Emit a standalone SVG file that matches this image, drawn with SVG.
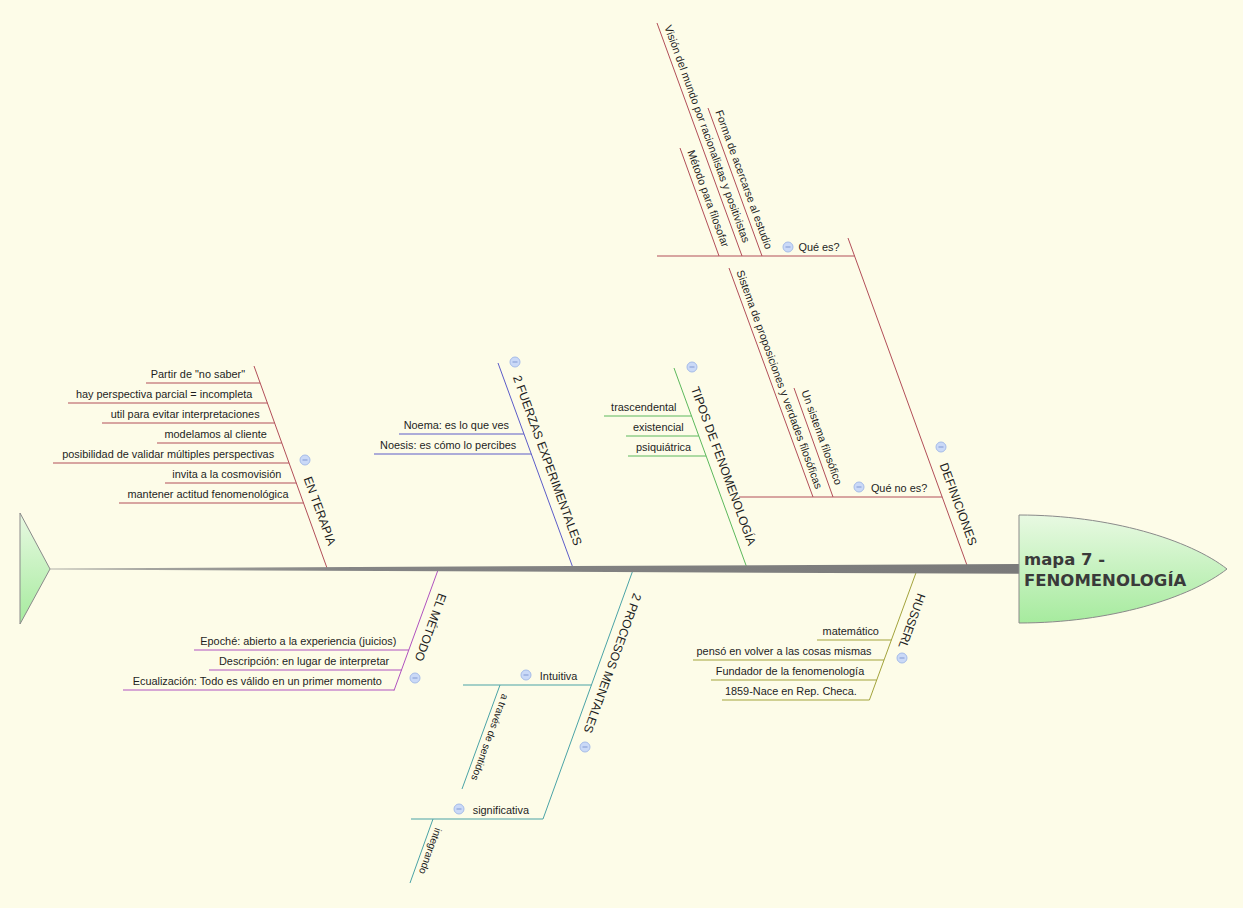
<svg xmlns="http://www.w3.org/2000/svg" xmlns:xlink="http://www.w3.org/1999/xlink" width="1243" height="908" viewBox="0 0 1243 908">
<defs>
<linearGradient id="gHead" x1="0" y1="0" x2="0" y2="1">
<stop offset="0" stop-color="#e8f9e2"/>
<stop offset="1" stop-color="#a6eb9e"/>
</linearGradient>
<linearGradient id="gSpine" x1="50" y1="0" x2="1020" y2="0" gradientUnits="userSpaceOnUse">
<stop offset="0" stop-color="#b4b4ac"/>
<stop offset="0.3" stop-color="#858585"/>
<stop offset="1" stop-color="#7a7a7a"/>
</linearGradient>
<g id="ic">
<circle cx="0" cy="0" r="5" fill="#cad9f7" stroke="#a6bce8" stroke-width="1"/>
<line x1="-2.5" y1="0" x2="2.5" y2="0" stroke="#8199d2" stroke-width="1"/>
</g>
</defs>
<style>
.t{font-family:"Liberation Sans",Arial,sans-serif;font-size:10.9px;fill:#1e1e1e}
.m{font-size:12.2px}
.s{font-size:10.2px}
.e{text-anchor:end}
.ttl{font-family:"DejaVu Sans",Verdana,sans-serif;font-weight:bold;font-size:16.5px;fill:#3a3a3a}
.ln{fill:none;stroke-width:1}
.red{stroke:#b24e58}
.blue{stroke:#5c5cc8}
.green{stroke:#5cb85c}
.purple{stroke:#b052bf}
.teal{stroke:#4aa3a6}
.olive{stroke:#a3a33c}
</style>
<rect x="0" y="0" width="1243" height="908" fill="#fdfce8"/>

<g id="connectors">
<path class="ln red" d="M848,238 L968,568"/>
<path class="ln red" d="M657,256 H854.6"/>
<path class="ln red" d="M657,23 L742,256"/>
<path class="ln red" d="M708,108 L762,256"/>
<path class="ln red" d="M680,148 L719,256"/>
<path class="ln red" d="M739,497 H942.2"/>
<path class="ln red" d="M729,268 L813,497"/>
<path class="ln red" d="M794,388 L833,497"/>

<path class="ln red" d="M254,366 L327,568"/>
<path class="ln red" d="M146,383 H260.1 M68,403 H267.4 M102,423 H274.6 M157,443 H281.8 M53,463 H289.1 M165,483 H296.3 M119,503 H303.5"/>

<path class="ln blue" d="M498,363 L573,568 M399,434 H524 M374,454 H531.3"/>

<path class="ln green" d="M674,368 L747,568 M604,416 H691.5 M626,436 H698.8 M628,456 H706.1"/>

<path class="ln purple" d="M438,570 L394,690.5 M194,650 H408.9 M209,670 H401.6 M123,690 H394.4"/>

<path class="ln teal" d="M633,570 L543,819 M463,685 H591.4 M411,819 H543 M500,685 L462,789 M433,819 L410,883"/>

<path class="ln olive" d="M917,570 L869.4,700 M817,640 H891.4 M693,660 H884 M711,680 H876.7 M722,700 H869.4"/>

<polygon points="50,568.4 1020,564 1020,573.8 50,569.6" fill="url(#gSpine)"/>
</g>

<g id="tail">
<polygon points="20,513 20,624 50,569" fill="url(#gHead)" stroke="#8a8a8a" stroke-width="1"/>
</g>

<g id="head">
<path d="M1019,515 C1110,515 1190,540 1227,569 C1190,598 1110,623 1019,623 Z" fill="url(#gHead)" stroke="#8a8a8a" stroke-width="1"/>
<text class="ttl" x="1024" y="565">mapa 7 -</text>
<text class="ttl" x="1024" y="586">FENOMENOLOGÍA</text>
</g>

<g id="definiciones">
<text class="t m e" transform="translate(969.2,546.3) rotate(70)">DEFINICIONES</text>
<use xlink:href="#ic" x="941" y="447"/>
</g>
<g id="que-es">
<text class="t e" x="839.6" y="251">Qué es?</text>
<use xlink:href="#ic" x="788" y="247"/>
</g>
<g id="vision">
<text class="t" transform="translate(664.2,26.8) rotate(70)">Visión del mundo por racionalistas y positivistas</text>
</g>
<g id="forma">
<text class="t" transform="translate(715.2,111.8) rotate(70)">Forma de acercarse al estudio</text>
</g>
<g id="metodo-filosofar">
<text class="t" transform="translate(687.2,151.8) rotate(70)">Método para filosofar</text>
</g>
<g id="que-no-es">
<text class="t e" x="927.2" y="492">Qué no es?</text>
<use xlink:href="#ic" x="859" y="487"/>
</g>
<g id="sistema-proposiciones">
<text class="t" transform="translate(736.2,271.8) rotate(70)">Sistema de proposiciones y verdades filosóficas</text>
</g>
<g id="sistema-filosofico">
<text class="t" transform="translate(801.2,391.8) rotate(70)">Un sistema filosófico</text>
</g>

<g id="en-terapia">
<text class="t m e" transform="translate(328.2,546.3) rotate(70)">EN TERAPIA</text>
<use xlink:href="#ic" x="305" y="460"/>
</g>
<g id="terapia-items">
<text class="t e" x="245.1" y="378">Partir de "no saber"</text>
<text class="t e" x="252.4" y="398">hay perspectiva parcial = incompleta</text>
<text class="t e" x="259.6" y="418">util para evitar interpretaciones</text>
<text class="t e" x="266.8" y="438">modelamos al cliente</text>
<text class="t e" x="274.1" y="458">posibilidad de validar múltiples perspectivas</text>
<text class="t e" x="281.3" y="478">invita a la cosmovisión</text>
<text class="t e" x="288.5" y="498">mantener actitud fenomenológica</text>
</g>

<g id="fuerzas">
<text class="t m e" transform="translate(574.2,546.3) rotate(70)">2 FUERZAS EXPERIMENTALES</text>
<use xlink:href="#ic" x="515" y="362"/>
<text class="t e" x="509" y="429">Noema: es lo que ves</text>
<text class="t e" x="516.3" y="449">Noesis: es cómo lo percibes</text>
</g>

<g id="tipos">
<text class="t m e" transform="translate(748.2,546.3) rotate(70)">TIPOS DE FENOMENOLOGÍA</text>
<use xlink:href="#ic" x="692" y="367"/>
<text class="t e" x="676.5" y="411">trascendental</text>
<text class="t e" x="683.8" y="431">existencial</text>
<text class="t e" x="691.1" y="451">psiquiátrica</text>
</g>

<g id="el-metodo">
<text class="t m" transform="translate(438.8,592.6) rotate(110)">EL MÉTODO</text>
<use xlink:href="#ic" x="415" y="678"/>
<text class="t e" x="396.4" y="645">Epoché: abierto a la experiencia (juicios)</text>
<text class="t e" x="389.1" y="665">Descripción: en lugar de interpretar</text>
<text class="t e" x="381.9" y="685">Ecualización: Todo es válido en un primer momento</text>
</g>

<g id="procesos">
<text class="t m" transform="translate(633.8,592.6) rotate(110)">2 PROCESOS MENTALES</text>
<use xlink:href="#ic" x="585" y="747"/>
</g>
<g id="intuitiva">
<text class="t e" x="577.4" y="680">Intuitiva</text>
<use xlink:href="#ic" x="526" y="675"/>
</g>
<g id="a-traves">
<text class="t s" transform="translate(502.3,693.3) rotate(110)">a través de sentidos</text>
</g>
<g id="significativa">
<text class="t e" x="529" y="814">significativa</text>
<use xlink:href="#ic" x="459" y="809"/>
</g>
<g id="integrando">
<text class="t s" transform="translate(435.3,827.3) rotate(110)">integrando</text>
</g>

<g id="husserl">
<text class="t m" transform="translate(917.8,592.6) rotate(110)">HUSSERL</text>
<use xlink:href="#ic" x="902" y="658"/>
<text class="t e" x="878.9" y="635">matemático</text>
<text class="t e" x="871.5" y="655">pensó en volver a las cosas mismas</text>
<text class="t e" x="864.2" y="675">Fundador de la fenomenología</text>
<text class="t e" x="856.9" y="695">1859-Nace en Rep. Checa.</text>
</g>
</svg>
